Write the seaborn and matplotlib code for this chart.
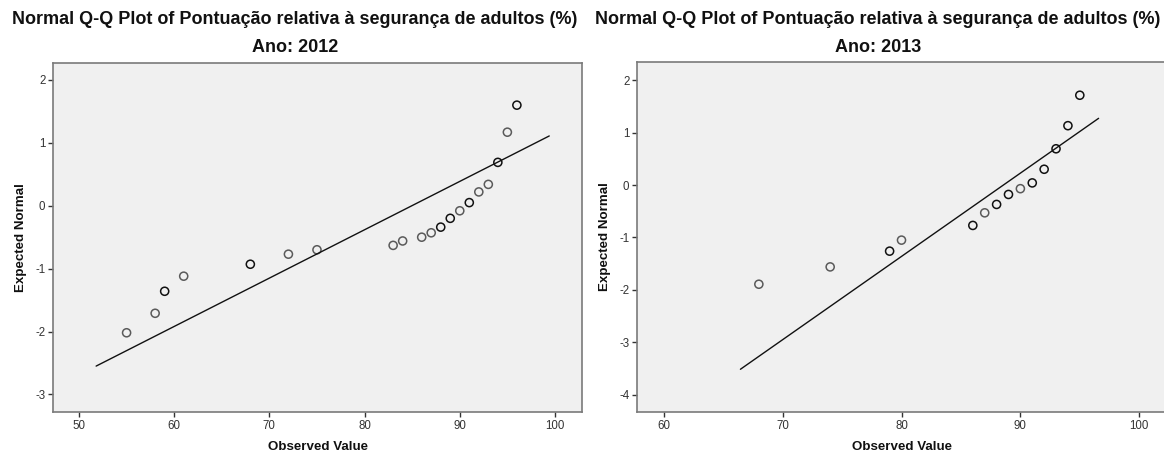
import numpy as np
import pandas as pd
import matplotlib
matplotlib.use("Agg")
import matplotlib.pyplot as plt
import seaborn as sns

# ---- data ----
obs_2012 = [55, 58, 59, 61, 68, 72, 75, 83, 84, 86, 87, 88, 89, 90, 91, 92, 93, 94, 95, 96]
exp_2012 = [-2.02, -1.71, -1.36, -1.12, -0.93, -0.77, -0.70, -0.63, -0.56, -0.50,
            -0.43, -0.34, -0.20, -0.08, 0.05, 0.22, 0.34, 0.69, 1.17, 1.60]
cnt_2012 = [1, 1, 2, 1, 2, 1, 1, 1, 1, 1, 1, 2, 2, 1, 2, 1, 1, 2, 1, 2]
line_x_2012 = [51.8, 99.4]
line_y_2012 = [-2.55, 1.11]

obs_2013 = [68, 74, 79, 80, 86, 87, 88, 89, 90, 91, 92, 93, 94, 95]
exp_2013 = [-1.89, -1.56, -1.26, -1.05, -0.77, -0.53, -0.37, -0.18, -0.07, 0.04,
            0.30, 0.69, 1.13, 1.71]
cnt_2013 = [1, 1, 2, 1, 2, 1, 2, 2, 1, 2, 2, 2, 2, 2]
line_x_2013 = [66.45, 96.58]
line_y_2013 = [-3.51, 1.27]

title_main = "Normal Q-Q Plot of Pontuação relativa à segurança de adultos (%)"
years = ["2012", "2013"]
x_ticks_2012 = [50, 60, 70, 80, 90, 100]
y_ticks_2012 = [-3, -2, -1, 0, 1, 2]
x_ticks_2013 = [60, 70, 80, 90, 100]
y_ticks_2013 = [-4, -3, -2, -1, 0, 1, 2]

sns.set_theme(style="white")
plt.rcParams['font.family'] = ['Liberation Sans', 'DejaVu Sans']
plt.rcParams['axes.unicode_minus'] = False

fig = plt.figure(figsize=(11.64, 4.54), dpi=100)
fig.patch.set_facecolor("white")

panels = [
    dict(obs=obs_2012, exp=exp_2012, cnt=cnt_2012, lx=line_x_2012, ly=line_y_2012,
         rect=[53/1164, 1-412/454, (582-53)/1164, (412-62.7)/454],
         xlim=(47.27, 102.84), ylim=(-3.28, 2.275), xt=x_ticks_2012, yt=y_ticks_2012,
         year=years[0], cx=295/1164),
    dict(obs=obs_2013, exp=exp_2013, cnt=cnt_2013, lx=line_x_2013, ly=line_y_2013,
         rect=[637/1164, 1-412/454, (1166-637)/1164, (412-62)/454],
         xlim=(57.75, 102.25), ylim=(-4.324, 2.343), xt=x_ticks_2013, yt=y_ticks_2013,
         year=years[1], cx=878/1164),
]

for p in panels:
    ax = fig.add_axes(p["rect"])
    ax.set_facecolor("#f0f0f0")
    df = pd.DataFrame({"obs": p["obs"], "exp": p["exp"], "cnt": p["cnt"]})
    sns.lineplot(x=p["lx"], y=p["ly"], ax=ax, color="#111111", linewidth=1.0)
    sns.scatterplot(data=df, x="obs", y="exp", hue="cnt",
                    palette={1: "#5a5a5a", 2: "#111111"}, ax=ax, legend=False,
                    marker="o", s=34, linewidth=1.1)
    coll = ax.collections[-1]
    ec = coll.get_facecolors()
    coll.set_edgecolors(ec)
    coll.set_facecolors("none")

    ax.set_xlim(*p["xlim"])
    ax.set_ylim(*p["ylim"])
    ax.set_xticks(p["xt"])
    ax.set_yticks(p["yt"])
    ax.tick_params(axis="both", direction="out", length=3.5, width=1.0, color="#333333",
                   labelsize=8.3, labelcolor="#333333", pad=2, bottom=True, left=True)
    for s in ax.spines.values():
        s.set_color("#7a7a7a")
        s.set_linewidth(1.2)
    ax.set_xlabel("Observed Value", fontsize=9.6, fontweight="bold", color="#111111", labelpad=7)
    ax.set_ylabel("Expected Normal", fontsize=9.6, fontweight="bold", color="#111111", labelpad=6)
    fig.text(p["cx"], 1-20/454, title_main, ha="center", va="center",
             fontsize=13, fontweight="bold", color="#111111")
    fig.text(p["cx"], 1-47/454, "Ano: " + p["year"], ha="center", va="center",
             fontsize=13, fontweight="bold", color="#111111")

fig.savefig("out.png", dpi=100, facecolor="white")
